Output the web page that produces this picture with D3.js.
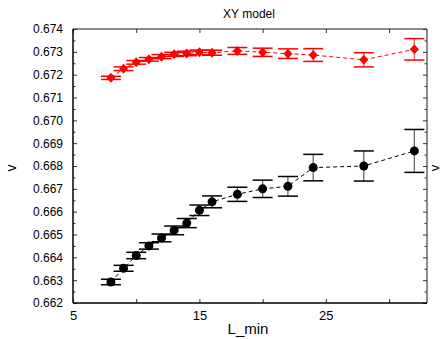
<!DOCTYPE html>
<html>
<head>
<meta charset="utf-8">
<script src="https://cdn.jsdelivr.net/npm/d3@7"></script>
<style>
  body { margin: 0; background: #fff; }
  svg text { font-family: "Liberation Sans", Arial, sans-serif; }
</style>
</head>
<body>
<svg id="chart" width="442" height="339"></svg>
<script>
// L_min values shared by both series
const lmin = [8, 9, 10, 11, 12, 13, 14, 15, 16, 18, 20, 22, 24, 28, 32];

// red diamonds
const redNu = [0.67186, 0.67226, 0.67254, 0.67267, 0.67279, 0.67289, 0.67293, 0.67298,
  0.67296, 0.67304, 0.67298, 0.67292, 0.67286, 0.67265, 0.67311];
const redErr = [0.00007, 0.00008, 0.00008, 0.00008, 0.00009, 0.00009, 0.0001, 0.0001,
  0.00011, 0.00015, 0.00018, 0.00021, 0.00028, 0.00031, 0.00047];

// black circles
const blackNu = [0.66292, 0.66352, 0.66408, 0.66450, 0.66485, 0.66518, 0.66550, 0.66606,
  0.66643, 0.66676, 0.66700, 0.66711, 0.66793, 0.66800, 0.66866];
const blackErr = [0.00012, 0.00013, 0.00014, 0.00014, 0.00017, 0.00019, 0.0002, 0.00023,
  0.00026, 0.00031, 0.00038, 0.00043, 0.00058, 0.00066, 0.00094];

const xTicks = [5, 10, 15, 20, 25, 30];
const xLabels = [5, 15, 25];
const yTicks = d3.range(0, 13).map(i => +(0.662 + i * 0.001).toFixed(3));
const yMinor = d3.range(0, 12).map(i => 0.6625 + i * 0.001);

const svg = d3.select('#chart');
const plotL = 73, plotR = 427, plotT = 29, plotB = 303;

const x = d3.scaleLinear().domain([5, 33]).range([plotL, plotR]);
const y = d3.scaleLinear().domain([0.662, 0.674]).range([plotB, plotT]);

// title
svg.append('text').attr('x', 249).attr('y', 18).attr('text-anchor', 'middle')
  .attr('font-size', 12).text('XY model');

// frame: top/right grey, left/bottom black
svg.append('line').attr('x1', plotL).attr('x2', plotR).attr('y1', plotT).attr('y2', plotT)
  .attr('stroke', '#666').attr('stroke-width', 1.5);
svg.append('line').attr('x1', plotR).attr('x2', plotR).attr('y1', plotT).attr('y2', plotB)
  .attr('stroke', '#666').attr('stroke-width', 1.5);

// inward ticks, drawn with d3 axes then frame line on top
const gl = svg.append('g').attr('transform', `translate(${plotL},0)`)
  .call(d3.axisLeft(y).tickValues(yTicks).tickFormat(d3.format('.3f')).tickSize(-4).tickPadding(10));
const glm = svg.append('g').attr('transform', `translate(${plotL},0)`)
  .call(d3.axisLeft(y).tickValues(yMinor).tickFormat('').tickSize(-2.5));
const gr = svg.append('g').attr('transform', `translate(${plotR},0)`)
  .call(d3.axisRight(y).tickValues(yTicks).tickFormat('').tickSize(-4));
const grm = svg.append('g').attr('transform', `translate(${plotR},0)`)
  .call(d3.axisRight(y).tickValues(yMinor).tickFormat('').tickSize(-2.5));
const gb = svg.append('g').attr('transform', `translate(0,${plotB})`)
  .call(d3.axisBottom(x).tickValues(xTicks)
    .tickFormat(d => xLabels.includes(d) ? d : '').tickSize(-4).tickPadding(8));
const gt = svg.append('g').attr('transform', `translate(0,${plotT})`)
  .call(d3.axisTop(x).tickValues(xTicks).tickFormat('').tickSize(-4));

[gl, glm, gr, grm, gb, gt].forEach(g => {
  g.select('.domain').remove();
  g.selectAll('.tick line').attr('stroke', '#333');
  g.selectAll('text').attr('font-family', '"Liberation Sans", Arial, sans-serif')
    .attr('font-size', 12).attr('fill', '#000');
});
gb.selectAll('text').attr('font-size', 13);

svg.append('line').attr('x1', plotL).attr('x2', plotL).attr('y1', plotT).attr('y2', plotB)
  .attr('stroke', '#000').attr('stroke-width', 1.5);
svg.append('line').attr('x1', plotL).attr('x2', plotR).attr('y1', plotB).attr('y2', plotB)
  .attr('stroke', '#000').attr('stroke-width', 1.5);

// axis labels
svg.append('text').attr('x', 248).attr('y', 334).attr('text-anchor', 'middle')
  .attr('font-size', 15).text('L_min');
svg.append('text').attr('transform', 'translate(16,168) rotate(-90)').attr('text-anchor', 'middle')
  .attr('font-size', 14).text('v');
svg.append('text').attr('transform', 'translate(439,168) rotate(-90)').attr('text-anchor', 'middle')
  .attr('font-size', 13).text('v');

function drawSeries(vals, errs, color, stemColor, shape) {
  const pts = lmin.map((l, i) => ({ l, v: vals[i], e: errs[i] }));
  const g = svg.append('g');
  g.append('path').datum(pts)
    .attr('d', d3.line().x(d => x(d.l)).y(d => y(d.v)))
    .attr('fill', 'none').attr('stroke', color).attr('stroke-width', 1)
    .attr('stroke-dasharray', '4,3');
  const eb = g.selectAll('g.eb').data(pts).join('g');
  eb.append('line').attr('x1', d => x(d.l)).attr('x2', d => x(d.l))
    .attr('y1', d => y(d.v - d.e)).attr('y2', d => y(d.v + d.e))
    .attr('stroke', stemColor).attr('stroke-width', 1.3);
  [-1, 1].forEach(s => {
    eb.append('line').attr('x1', d => x(d.l) - 10).attr('x2', d => x(d.l) + 10)
      .attr('y1', d => y(d.v + s * d.e)).attr('y2', d => y(d.v + s * d.e))
      .attr('stroke', color).attr('stroke-width', 1.5);
  });
  if (shape === 'circle') {
    g.selectAll('circle').data(pts).join('circle')
      .attr('cx', d => x(d.l)).attr('cy', d => y(d.v)).attr('r', 4.5).attr('fill', color);
  } else {
    g.selectAll('path.pt').data(pts).join('path').attr('class', 'pt')
      .attr('d', d => `M${x(d.l)},${y(d.v) - 5}l4.5,5l-4.5,5l-4.5,-5z`).attr('fill', color);
  }
}

drawSeries(blackNu, blackErr, '#000', '#666', 'circle');
drawSeries(redNu, redErr, '#f00', '#f55', 'diamond');
</script>
</body>
</html>
